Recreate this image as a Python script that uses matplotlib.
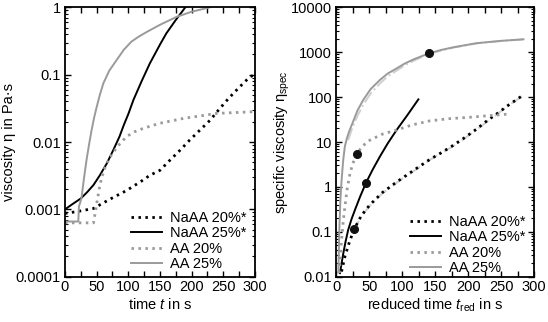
import numpy as np
import matplotlib
matplotlib.use("Agg")
import matplotlib.pyplot as plt
from matplotlib.ticker import MultipleLocator, LogLocator, NullFormatter

plt.rcParams['font.family'] = ['Liberation Sans', 'DejaVu Sans']
plt.rcParams['font.size'] = 10
plt.rcParams['mathtext.fontset'] = 'custom'
plt.rcParams['mathtext.rm'] = 'Liberation Sans'
plt.rcParams['mathtext.it'] = 'Liberation Sans:italic'

# ---- left panel: viscosity vs time ----
t_naaa20 = [0, 20, 45, 70, 97, 120, 134, 150, 166, 182, 197, 213, 229, 240, 253, 266, 280, 292, 300]
v_naaa20 = [0.00087, 0.00093, 0.00103, 0.0014, 0.0019, 0.0026, 0.0032, 0.0038, 0.0054, 0.0076, 0.0107, 0.015,
            0.021, 0.028, 0.039, 0.053, 0.072, 0.093, 0.1]
t_naaa25 = [0, 12, 25, 35, 45, 55, 66, 76, 86, 93, 100, 108, 121, 134, 150, 160, 175, 190]
v_naaa25 = [0.001, 0.0012, 0.00145, 0.0018, 0.0023, 0.0032, 0.0048, 0.0075, 0.012, 0.018, 0.026, 0.042,
            0.08, 0.147, 0.28, 0.41, 0.65, 1.0]
t_aa20 = [0, 45, 50, 54, 58, 64, 71, 84, 97, 110, 124, 150, 187, 240, 292, 300]
v_aa20 = [0.00063, 0.00063, 0.0012, 0.002, 0.003, 0.0044, 0.006, 0.0088, 0.012, 0.0142, 0.016, 0.019,
          0.0224, 0.0266, 0.028, 0.0282]
t_aa25 = [0, 21, 22, 26, 30, 34, 38, 42, 46, 50, 55, 60.5, 70, 81.6, 93, 105, 117, 129, 150, 176, 200, 229]
v_aa25 = [0.00066, 0.00066, 0.0011, 0.00146, 0.0029, 0.0054, 0.0092, 0.015, 0.023, 0.033, 0.05, 0.074,
          0.115, 0.165, 0.235, 0.31, 0.37, 0.43, 0.55, 0.72, 0.86, 1.0]

# ---- right panel: specific viscosity vs reduced time ----
r_naaa20 = [8, 13, 20, 27, 38, 51, 70, 92, 122, 142, 157, 175, 193, 212, 231, 246, 261, 284]
s_naaa20 = [0.013, 0.028, 0.06, 0.114, 0.23, 0.4, 0.75, 1.3, 2.6, 4.1, 5.5, 8.0, 12, 19, 31.6, 45, 66, 112]
r_naaa25 = [5.6, 8, 10.6, 14, 18, 23, 28.4, 36, 45, 55, 66, 78, 91.6, 108, 124.5]
s_naaa25 = [0.012, 0.02, 0.033, 0.06, 0.11, 0.19, 0.31, 0.6, 1.23, 2.4, 4.7, 9.3, 18.6, 40, 89]
r_aa20 = [4.6, 6, 8, 10.5, 13, 16.5, 20.8, 25, 31, 40, 51, 70, 92, 115, 142, 170, 203, 235, 262]
s_aa20 = [0.012, 0.028, 0.066, 0.17, 0.36, 0.9, 2.0, 3.3, 5.4, 8.2, 11, 15, 18.6, 24, 29.6, 33, 35.6, 39, 42]
r_aa25 = [3, 4, 4.6, 6, 8, 10.5, 13, 16, 20, 25.3, 32, 41, 52, 66, 78, 91.6, 104, 117, 141, 160, 178, 213, 250, 284]
s_aa25 = [0.0125, 0.05, 0.11, 0.45, 1.4, 4, 8, 12, 18, 28, 50, 87, 150, 240, 335, 437, 560, 690, 950, 1130,
          1290, 1590, 1790, 1940]
# model fits (light dash-dot)
f_naaa20_t = [25, 38, 51, 70, 92, 122, 142, 175, 193, 212, 231, 261, 284]
f_naaa20_s = [0.1, 0.22, 0.38, 0.72, 1.25, 2.5, 4.0, 7.7, 11.5, 18.5, 30, 64, 110]
f_aa25_t = [18, 25, 32, 41, 52, 66, 78, 91.6, 104, 117, 141, 178, 213, 250, 284]
f_aa25_s = [11, 22, 38, 68, 120, 200, 290, 390, 510, 640, 930, 1270, 1570, 1780, 1920]
# marked points
m_t = [27, 45, 31, 141]
m_s = [0.114, 1.23, 5.4, 950]

labels = ["NaAA 20%*", "NaAA 25%*", "AA 20%", "AA 25%"]
dot = (0, (0.9, 1.6))
styles = [dict(color="black", ls=dot, lw=2.0),
          dict(color="black", ls="-", lw=1.4),
          dict(color="#9a9a9a", ls=dot, lw=2.0),
          dict(color="#9a9a9a", ls="-", lw=1.4)]

fig = plt.figure(figsize=(5.48, 3.22), dpi=100)
ax1 = fig.add_axes([0.1186, 0.1407, 0.3467, 0.8366])
ax2 = fig.add_axes([0.6137, 0.1407, 0.3608, 0.8366])

for (x, y), st, lab in zip([(t_naaa20, v_naaa20), (t_naaa25, v_naaa25),
                            (t_aa20, v_aa20), (t_aa25, v_aa25)], styles, labels):
    ax1.plot(x, y, label=lab, **st)

ax2.plot(f_naaa20_t, f_naaa20_s, color="#cfcfcf", ls="-.", lw=1.4)
ax2.plot(f_aa25_t, f_aa25_s, color="#cfcfcf", ls="-.", lw=1.4)
for (x, y), st, lab in zip([(r_naaa20, s_naaa20), (r_naaa25, s_naaa25),
                            (r_aa20, s_aa20), (r_aa25, s_aa25)], styles, labels):
    ax2.plot(x, y, label=lab, **st)
ax2.plot(m_t, m_s, "o", color="#111111", ms=5.5, ls="none")

for ax in (ax1, ax2):
    ax.set_yscale("log")
    ax.set_xlim(0, 300)
    ax.xaxis.set_major_locator(MultipleLocator(50))
    ax.xaxis.set_minor_locator(MultipleLocator(25))
    ax.yaxis.set_minor_locator(LogLocator(base=10, subs=np.arange(2, 10), numticks=20))
    ax.yaxis.set_minor_formatter(NullFormatter())
    ax.tick_params(which="both", direction="in", top=True, right=True, labelsize=10.5)
    ax.tick_params(which="major", length=4, width=1)
    ax.tick_params(axis="x", which="minor", length=4, width=1)
    ax.tick_params(axis="y", which="minor", length=2.5, width=0.8)
    ax.tick_params(axis="x", pad=2.5)
    ax.tick_params(axis="y", pad=3)
    for sp in ax.spines.values():
        sp.set_linewidth(1.3)

ax1.legend(loc="lower right", bbox_to_anchor=(1.0, -0.012), frameon=False, fontsize=10.5,
           handlelength=2.1, handletextpad=0.55, labelspacing=0.1, borderaxespad=0.2)
ax2.legend(loc="lower right", bbox_to_anchor=(1.0, -0.027), frameon=False, fontsize=10.5,
           handlelength=2.1, handletextpad=0.55, labelspacing=0.1, borderaxespad=0.2)

ax1.set_ylim(1e-4, 1)
ax2.set_ylim(1e-2, 1e4)
ax1.set_yticks([1e-4, 1e-3, 1e-2, 1e-1, 1])
ax1.set_yticklabels(["0.0001", "0.001", "0.01", "0.1", "1"])
ax2.set_yticks([1e-2, 1e-1, 1, 10, 100, 1000, 10000])
ax2.set_yticklabels(["0.01", "0.1", "1", "10", "100", "1000", "10000"])

ax1.set_xlabel("time $\\mathit{t}$ in s", fontsize=10.5)
ax1.set_ylabel("viscosity η in Pa·s", fontsize=10.5)
ax2.set_xlabel("reduced time $\\mathit{t}_{\\mathrm{red}}$ in s", fontsize=10.5)
ax2.set_ylabel("specific viscosity η$_{\\mathrm{spec}}$", fontsize=10.5)
ax1.xaxis.set_label_coords(0.5, -0.075)
ax2.xaxis.set_label_coords(0.5, -0.075)
ax1.yaxis.set_label_coords(-0.258, 0.5)
ax2.yaxis.set_label_coords(-0.225, 0.5)

fig.savefig("out.png", dpi=100)
